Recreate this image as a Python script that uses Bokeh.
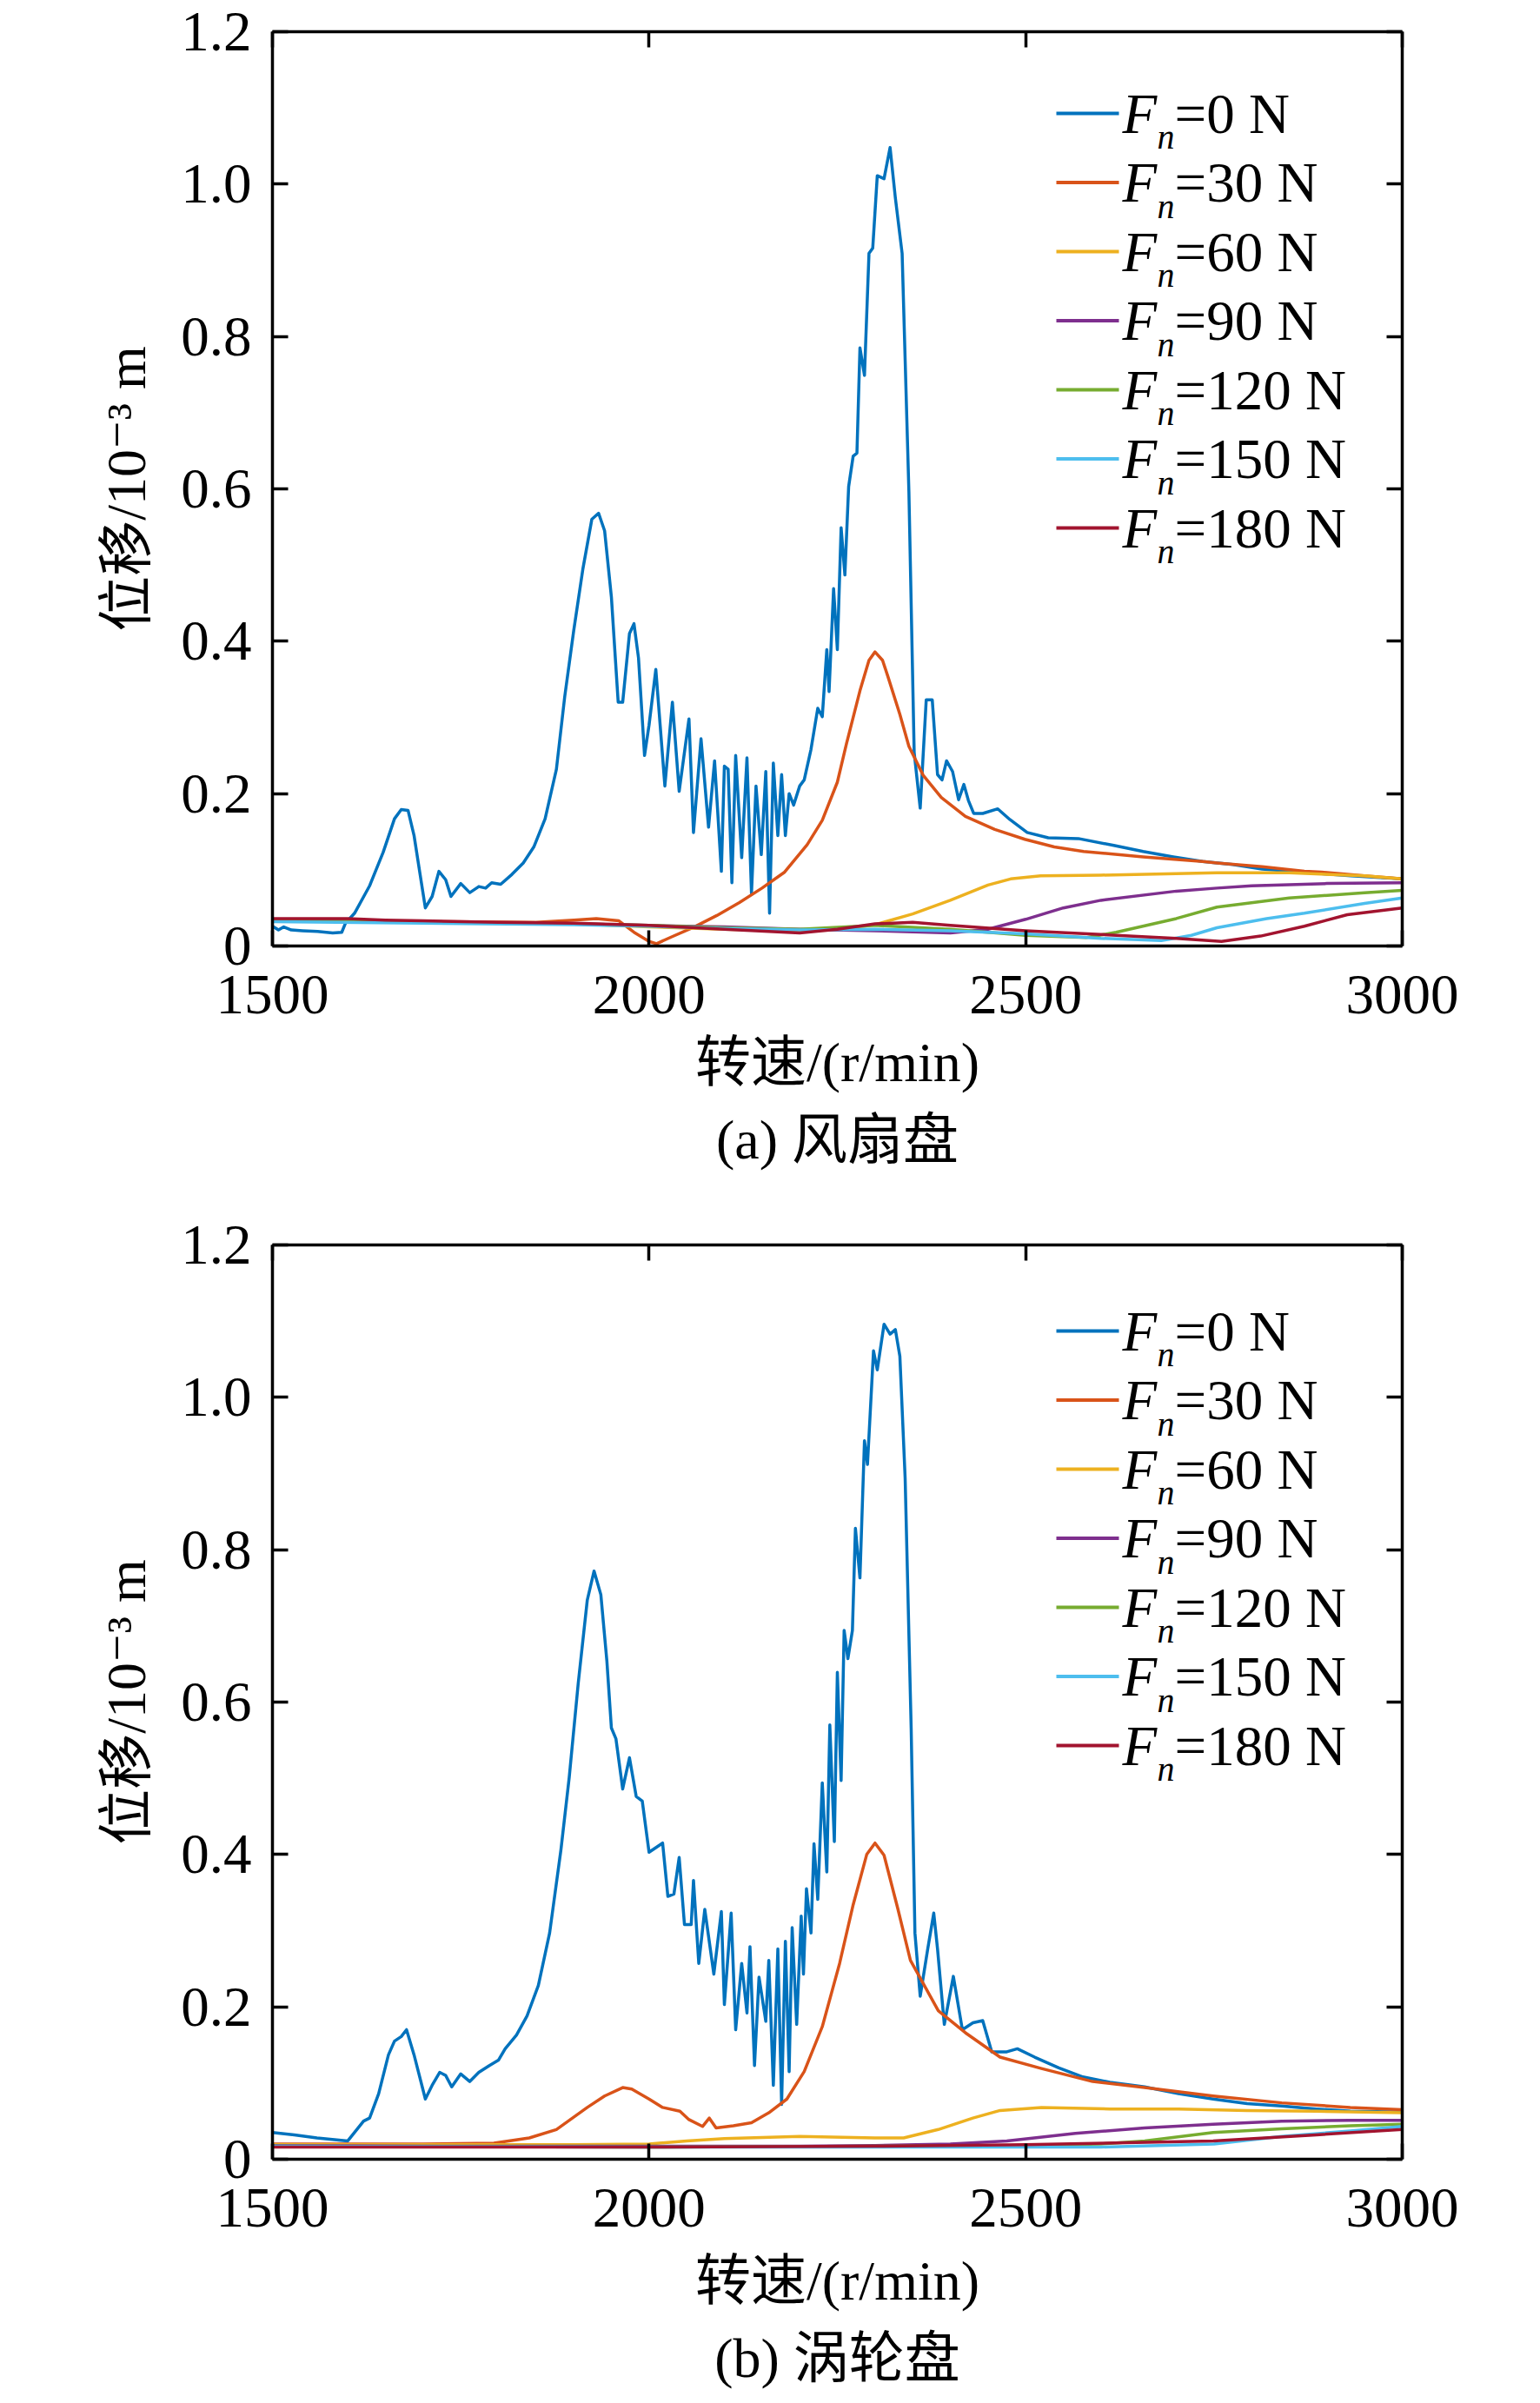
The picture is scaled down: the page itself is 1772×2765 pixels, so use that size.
from bokeh.plotting import figure
from bokeh.layouts import column
from bokeh.models import (LinearAxis, FixedTicker, Label, Arrow, Range1d, Title,
                          PrintfTickFormatter, CustomJSTickFormatter)
from bokeh.embed import file_html
from bokeh.resources import INLINE

# ---------------- data ----------------
X_TICKS = [1500, 2000, 2500, 3000]
Y_TICKS = [0, 0.2, 0.4, 0.6, 0.8, 1.0, 1.2]
FORCES = ["0", "30", "60", "90", "120", "150", "180"]
COLORS = ["#0072BD", "#D95319", "#EDB120", "#7E2F8E", "#77AC30", "#4DBEEE", "#A2142F"]
X_LABEL = "转速/(r/min)"
Y_LABEL = "位移/10⁻³ m"
CAPTIONS = ["(a) 风扇盘", "(b) 涡轮盘"]

# (a) fan disc
A0_RPM = [1500, 1508, 1515, 1525, 1540, 1560, 1580, 1592, 1597, 1609, 1629, 1647, 1662, 1671, 1680, 1688,
          1696, 1703, 1712, 1721, 1730, 1737, 1750, 1762, 1774, 1783, 1791, 1803, 1818, 1833, 1847, 1862,
          1877, 1888, 1900, 1912, 1924, 1933, 1941, 1950, 1959, 1965, 1974, 1980, 1986, 1994, 2000, 2009,
          2021, 2031, 2040, 2053, 2059, 2069, 2079, 2087, 2096, 2100, 2105, 2110, 2115, 2123, 2130, 2136,
          2142, 2149, 2155, 2160, 2165, 2171, 2176, 2181, 2186, 2192, 2200, 2206, 2215, 2224, 2230, 2236,
          2239, 2245, 2250, 2255, 2260, 2265, 2271, 2276, 2280, 2286, 2292, 2297, 2303, 2312, 2320, 2327,
          2336, 2345, 2352, 2360, 2368, 2376, 2383, 2389, 2395, 2403, 2411, 2418, 2424, 2431, 2443, 2463,
          2479, 2502, 2530, 2570, 2617, 2656, 2696, 2735, 2775, 2814, 2853, 2893, 2932, 3000]
A0_VAL = [0.026, 0.021, 0.025, 0.021, 0.020, 0.019, 0.017, 0.018, 0.030, 0.043, 0.079, 0.123, 0.167, 0.179, 0.178, 0.145,
          0.094, 0.050, 0.065, 0.098, 0.087, 0.065, 0.082, 0.070, 0.078, 0.076, 0.083, 0.081, 0.094, 0.109, 0.130, 0.167,
          0.232, 0.327, 0.414, 0.494, 0.560, 0.568, 0.545, 0.458, 0.320, 0.320, 0.410, 0.423, 0.378, 0.250, 0.290, 0.363,
          0.210, 0.320, 0.203, 0.298, 0.149, 0.272, 0.156, 0.243, 0.098, 0.236, 0.232, 0.083, 0.250, 0.116, 0.247, 0.069,
          0.210, 0.120, 0.229, 0.043, 0.240, 0.145, 0.225, 0.145, 0.200, 0.185, 0.210, 0.218, 0.258, 0.312, 0.301, 0.389,
          0.334, 0.469, 0.389, 0.549, 0.487, 0.603, 0.643, 0.647, 0.785, 0.749, 0.909, 0.916, 1.011, 1.007, 1.048, 0.982,
          0.909, 0.596, 0.254, 0.181, 0.323, 0.323, 0.225, 0.218, 0.243, 0.229, 0.192, 0.212, 0.191, 0.174, 0.174, 0.180,
          0.166, 0.149, 0.142, 0.141, 0.132, 0.124, 0.117, 0.111, 0.107, 0.101, 0.098, 0.095, 0.092, 0.088]
A1_RPM = [1500, 1700, 1850, 1900, 1930, 1960, 1980, 2000, 2010, 2030, 2060, 2090, 2120, 2150, 2180, 2210, 2230,
          2250, 2262, 2280, 2292, 2300, 2310, 2317, 2333, 2345, 2364, 2388, 2420, 2459, 2499, 2538, 2577, 2656,
          2735, 2754, 2814, 2870, 2893, 2950, 3000]
A1_VAL = [0.034, 0.032, 0.031, 0.034, 0.036, 0.033, 0.018, 0.006, 0.003, 0.012, 0.025, 0.040, 0.057, 0.076, 0.097, 0.133, 0.165,
          0.215, 0.265, 0.335, 0.375, 0.386, 0.375, 0.354, 0.304, 0.262, 0.224, 0.195, 0.170, 0.153, 0.140, 0.130, 0.124, 0.117,
          0.111, 0.109, 0.104, 0.098, 0.097, 0.092, 0.088]
A2_RPM = [1500, 1700, 1900, 2000, 2100, 2200, 2250, 2300, 2350, 2400, 2450, 2480, 2520, 2600, 2700, 2754, 2850, 2950, 3000]
A2_VAL = [0.033, 0.031, 0.029, 0.025, 0.022, 0.020, 0.021, 0.028, 0.042, 0.060, 0.080, 0.088, 0.092, 0.093, 0.095, 0.096, 0.096, 0.092, 0.088]
A3_RPM = [1500, 1700, 1900, 2000, 2100, 2200, 2300, 2400, 2450, 2500, 2550, 2600, 2700, 2754, 2800, 2900, 3000]
A3_VAL = [0.033, 0.031, 0.029, 0.027, 0.025, 0.022, 0.020, 0.017, 0.022, 0.035, 0.050, 0.060, 0.072, 0.076, 0.079, 0.082, 0.083]
A4_RPM = [1500, 1700, 1900, 2000, 2100, 2200, 2300, 2400, 2500, 2580, 2620, 2700, 2754, 2850, 2950, 3000]
A4_VAL = [0.033, 0.031, 0.029, 0.027, 0.024, 0.022, 0.027, 0.022, 0.014, 0.011, 0.018, 0.036, 0.051, 0.063, 0.070, 0.073]
A5_RPM = [1500, 1700, 1900, 2000, 2100, 2200, 2300, 2400, 2500, 2600, 2680, 2720, 2754, 2820, 2870, 2950, 3000]
A5_VAL = [0.032, 0.030, 0.028, 0.026, 0.023, 0.021, 0.022, 0.020, 0.016, 0.010, 0.007, 0.014, 0.024, 0.036, 0.043, 0.056, 0.063]
A6_RPM = [1500, 1550, 1600, 1650, 1700, 1800, 1900, 2000, 2100, 2200, 2250, 2300, 2350, 2400, 2500, 2600, 2700,
          2760, 2812, 2870, 2927, 3000]
A6_VAL = [0.036, 0.036, 0.036, 0.034, 0.033, 0.031, 0.030, 0.027, 0.022, 0.017, 0.022, 0.029, 0.031, 0.027, 0.020, 0.015, 0.010,
          0.006, 0.013, 0.026, 0.041, 0.050]

# (b) turbine disc
B0_RPM = [1500, 1529, 1559, 1600, 1621, 1629, 1641, 1654, 1662, 1671, 1678, 1688, 1703, 1712, 1722, 1730, 1738,
          1750, 1762, 1774, 1788, 1800, 1809, 1824, 1838, 1853, 1868, 1883, 1894, 1906, 1918, 1927, 1936, 1944,
          1950, 1956, 1965, 1974, 1983, 1991, 2000, 2018, 2025, 2033, 2040, 2047, 2056, 2059, 2066, 2074, 2086,
          2096, 2100, 2109, 2115, 2123, 2130, 2134, 2140, 2146, 2155, 2159, 2165, 2171, 2176, 2181, 2186, 2190,
          2196, 2202, 2205, 2209, 2215, 2219, 2224, 2230, 2236, 2240, 2246, 2250, 2255, 2259, 2264, 2270, 2274,
          2280, 2286, 2290, 2298, 2303, 2312, 2320, 2327, 2333, 2340, 2348, 2353, 2360, 2370, 2378, 2383, 2392,
          2404, 2416, 2430, 2443, 2455, 2475, 2489, 2512, 2544, 2576, 2612, 2658, 2703, 2749, 2794, 2840, 2886,
          2931, 3000]
B0_VAL = [0.035, 0.032, 0.028, 0.024, 0.050, 0.054, 0.086, 0.137, 0.155, 0.161, 0.170, 0.137, 0.079, 0.097, 0.114, 0.110, 0.095,
          0.112, 0.102, 0.114, 0.123, 0.130, 0.145, 0.163, 0.188, 0.228, 0.297, 0.406, 0.501, 0.625, 0.734, 0.772, 0.741, 0.654,
          0.566, 0.552, 0.486, 0.527, 0.476, 0.470, 0.403, 0.415, 0.345, 0.348, 0.396, 0.308, 0.308, 0.366, 0.257, 0.328, 0.243,
          0.325, 0.203, 0.323, 0.170, 0.257, 0.192, 0.279, 0.123, 0.239, 0.181, 0.261, 0.097, 0.276, 0.072, 0.286, 0.115, 0.304,
          0.177, 0.319, 0.243, 0.355, 0.297, 0.414, 0.341, 0.494, 0.377, 0.570, 0.417, 0.639, 0.497, 0.694, 0.657, 0.694, 0.828,
          0.763, 0.943, 0.912, 1.061, 1.036, 1.096, 1.083, 1.089, 1.054, 0.894, 0.566, 0.297, 0.214, 0.276, 0.323, 0.276, 0.177,
          0.240, 0.170, 0.179, 0.182, 0.141, 0.141, 0.145, 0.134, 0.120, 0.108, 0.101, 0.095, 0.086, 0.079, 0.073, 0.070, 0.066,
          0.063, 0.062]
B1_RPM = [1500, 1600, 1700, 1794, 1841, 1877, 1918, 1941, 1965, 1977, 2000, 2018, 2041, 2053, 2071, 2080, 2089,
          2112, 2136, 2159, 2183, 2206, 2230, 2253, 2271, 2289, 2300, 2312, 2330, 2347, 2384, 2420, 2466, 2521,
          2589, 2658, 2749, 2840, 2931, 3000]
B1_VAL = [0.020, 0.020, 0.020, 0.021, 0.028, 0.039, 0.068, 0.083, 0.094, 0.092, 0.079, 0.068, 0.063, 0.052, 0.043, 0.054, 0.041,
          0.044, 0.048, 0.061, 0.079, 0.115, 0.174, 0.257, 0.334, 0.400, 0.415, 0.399, 0.330, 0.261, 0.195, 0.166, 0.134, 0.119,
          0.102, 0.094, 0.083, 0.074, 0.068, 0.065]
B2_RPM = [1500, 1700, 1900, 2000, 2050, 2100, 2200, 2300, 2338, 2384, 2430, 2466, 2521, 2612, 2703, 2794, 2886, 3000]
B2_VAL = [0.019, 0.019, 0.019, 0.020, 0.024, 0.027, 0.030, 0.028, 0.028, 0.039, 0.054, 0.064, 0.068, 0.066, 0.066, 0.064, 0.063, 0.061]
B3_RPM = [1500, 1800, 2000, 2200, 2300, 2400, 2475, 2566, 2658, 2749, 2840, 2931, 3000]
B3_VAL = [0.018, 0.017, 0.017, 0.017, 0.018, 0.020, 0.024, 0.034, 0.041, 0.046, 0.050, 0.051, 0.051]
B4_RPM = [1500, 2000, 2300, 2500, 2600, 2658, 2749, 2840, 2931, 3000]
B4_VAL = [0.017, 0.016, 0.017, 0.018, 0.020, 0.024, 0.035, 0.040, 0.044, 0.046]
B5_RPM = [1500, 2000, 2400, 2600, 2750, 2840, 2931, 3000]
B5_VAL = [0.017, 0.016, 0.016, 0.016, 0.020, 0.030, 0.037, 0.043]
B6_RPM = [1500, 2000, 2300, 2500, 2749, 2886, 3000]
B6_VAL = [0.016, 0.016, 0.017, 0.019, 0.024, 0.032, 0.039]

PANELS = [
    [(A0_RPM, A0_VAL), (A1_RPM, A1_VAL), (A2_RPM, A2_VAL), (A3_RPM, A3_VAL),
     (A4_RPM, A4_VAL), (A5_RPM, A5_VAL), (A6_RPM, A6_VAL)],
    [(B0_RPM, B0_VAL), (B1_RPM, B1_VAL), (B2_RPM, B2_VAL), (B3_RPM, B3_VAL),
     (B4_RPM, B4_VAL), (B5_RPM, B5_VAL), (B6_RPM, B6_VAL)],
]

# ---------------- layout ----------------
SERIF = "Liberation Serif, DejaVu Serif, Noto Sans CJK SC"
NUM_FONT = "Liberation Serif"
FRAME_W, FRAME_H = 1300, 1052
BORDER_L, BORDER_R = 313, 159
BORDERS_T = [36, 46]
BORDERS_B = [298, 281]
XLABEL_STANDOFFS = [18, 24]
CAPTION_STANDOFFS = [26, 27]
X0, X1 = X_TICKS[0], X_TICKS[-1]
Y0, Y1 = Y_TICKS[0], Y_TICKS[-1]
LEG_TOP_OFFSETS = [94, 99]   # first legend row, px below frame top
LEG_ROW = 79.5


def dx(px):   # px measured from frame left
    return X0 + px / FRAME_W * (X1 - X0)


def dy(py):   # py measured from frame top
    return Y1 - py / FRAME_H * (Y1 - Y0)


def style_axis(ax, labels=True):
    ax.axis_line_width = 3.5
    ax.axis_line_color = "black"
    ax.major_tick_in = 18
    ax.major_tick_out = 0
    ax.major_tick_line_width = 3.5
    ax.major_tick_line_color = "black"
    ax.minor_tick_line_color = None
    ax.major_label_text_font = NUM_FONT
    ax.major_label_text_font_size = "65px"
    ax.major_label_text_color = "black"
    if not labels:
        ax.formatter = CustomJSTickFormatter(code="return '';")
        ax.major_label_standoff = 0


figs = []
for k, series in enumerate(PANELS):
    p = figure(width=BORDER_L + FRAME_W + BORDER_R, height=BORDERS_T[k] + FRAME_H + BORDERS_B[k],
               x_range=Range1d(X0, X1), y_range=Range1d(Y0, Y1),
               output_backend="svg", toolbar_location=None,
               min_border_left=BORDER_L, min_border_right=BORDER_R,
               min_border_top=BORDERS_T[k], min_border_bottom=BORDERS_B[k])
    p.outline_line_color = None
    p.xgrid.visible = False
    p.ygrid.visible = False
    p.background_fill_color = "white"
    p.border_fill_color = "white"

    for (xs, ys), c in zip(series, COLORS):
        p.line(xs, ys, line_color=c, line_width=3.5, line_join="round")

    xa = p.xaxis[0]
    xa.ticker = FixedTicker(ticks=X_TICKS)
    style_axis(xa)
    xa.major_label_standoff = 34
    xa.axis_label = X_LABEL
    xa.axis_label_text_font = SERIF
    xa.axis_label_text_font_size = "64px"
    xa.axis_label_text_font_style = "normal"
    xa.axis_label_text_color = "black"
    xa.axis_label_standoff = XLABEL_STANDOFFS[k]

    ya = p.yaxis[0]
    ya.ticker = FixedTicker(ticks=Y_TICKS)
    style_axis(ya)
    ya.formatter = PrintfTickFormatter(format="%.1f")
    ya.major_label_standoff = 24
    ya.major_label_overrides = {0: "0"}
    ya.axis_label = Y_LABEL
    ya.axis_label_text_font = SERIF
    ya.axis_label_text_font_size = "64px"
    ya.axis_label_text_font_style = "normal"
    ya.axis_label_text_color = "black"
    ya.axis_label_standoff = 24

    top = LinearAxis(ticker=FixedTicker(ticks=X_TICKS))
    style_axis(top, labels=False)
    p.add_layout(top, "above")
    right = LinearAxis(ticker=FixedTicker(ticks=Y_TICKS))
    style_axis(right, labels=False)
    p.add_layout(right, "right")

    p.add_layout(Title(text=CAPTIONS[k], align="center", text_font=SERIF,
                       text_font_size="64px", text_font_style="normal",
                       text_color="black", standoff=CAPTION_STANDOFFS[k]), "below")

    # legend (italic F with subscript n)
    for i, (f, c) in enumerate(zip(FORCES, COLORS)):
        cy = LEG_TOP_OFFSETS[k] + LEG_ROW * i
        p.add_layout(Arrow(end=None, x_start=dx(902), x_end=dx(974), y_start=dy(cy), y_end=dy(cy),
                           line_color=c, line_width=4))
        p.add_layout(Label(x=dx(978), y=dy(cy), text="F", text_font=NUM_FONT,
                           text_font_size="65px", text_font_style="italic",
                           text_align="left", text_baseline="middle", text_color="black"))
        p.add_layout(Label(x=dx(1018), y=dy(cy + 27), text="n", text_font=NUM_FONT,
                           text_font_size="40px", text_font_style="italic",
                           text_align="left", text_baseline="middle", text_color="black"))
        p.add_layout(Label(x=dx(1038), y=dy(cy), text="=" + f + " N", text_font=NUM_FONT,
                           text_font_size="65px", text_font_style="normal",
                           text_align="left", text_baseline="middle", text_color="black"))
    figs.append(p)

layout = column(*figs, spacing=0)
open("out.html", "w").write(file_html(layout, INLINE))
